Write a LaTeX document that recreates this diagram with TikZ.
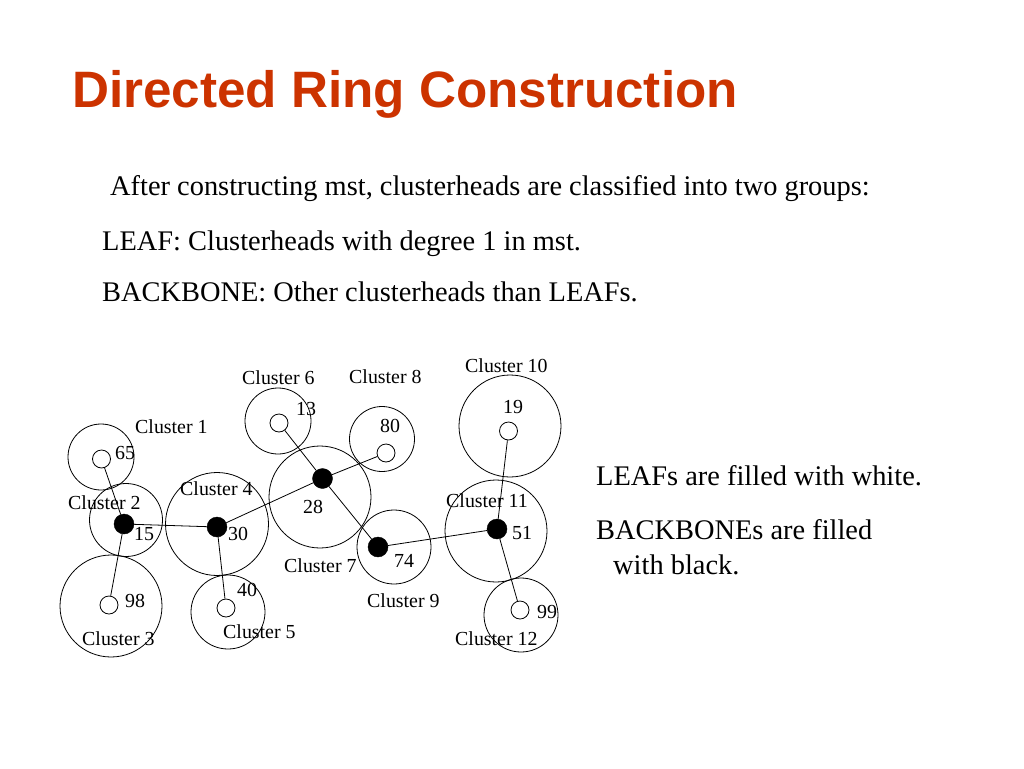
\documentclass[tikz,border=0pt]{standalone}
\usepackage{fontspec}
\setmainfont{Liberation Serif}
\newfontfamily\titlefont{Liberation Sans}
\definecolor{titlered}{RGB}{204,51,0}
\begin{document}
\begin{tikzpicture}[x=1pt,y=-1pt,
  ring/.style={draw=black,line width=0.8pt},
  leaf/.style={circle,draw=black,fill=white,line width=0.8pt,minimum size=18pt,inner sep=0pt},
  backbone/.style={circle,fill=black,draw=black,minimum size=20pt,inner sep=0pt},
  edge/.style={draw=black,line width=0.8pt},
  lbl/.style={anchor=base west,inner sep=0pt,font=\fontsize{19.9}{22}\selectfont},
  body/.style={anchor=base west,inner sep=0pt,font=\fontsize{28.4}{32}\selectfont},
  title/.style={anchor=base west,inner sep=0pt,text=titlered,font=\titlefont\bfseries\fontsize{51.2}{56}\selectfont}]
\useasboundingbox[fill=white] (0,0) rectangle (1024,768);

% texts
\node[title] (t) at (72,107) {Directed Ring Construction};
\node[body] (b1) at (110,195) {After constructing mst, clusterheads are classified into two groups:};
\node[body] (b2) at (102,250) {LEAF: Clusterheads with degree 1 in mst.};
\node[body] (b3) at (102,301) {BACKBONE: Other clusterheads than LEAFs.};
\node[body] (r1) at (596,485) {LEAFs are filled with white.};
\node[body] (r2) at (596,539) {BACKBONEs are filled};
\node[body] (r3) at (613,574) {with black.};

% cluster circles
\draw[ring] (101,457) circle (33);
\draw[ring] (126,520) circle (36.5);
\draw[ring] (111,606) circle (51);
\draw[ring] (217,524) circle (51.5);
\draw[ring] (228,612) circle (37);
\draw[ring] (278,421) circle (33);
\draw[ring] (320,497) circle (51);
\draw[ring] (382,439) circle (32.5);
\draw[ring] (394,547) circle (37);
\draw[ring] (510,426) circle (51);
\draw[ring] (496,531) circle (51);
\draw[ring] (521,615) circle (37);

% clusterheads
\node[leaf] (n65) at (101.5,459) {};
\node[backbone] (n15) at (124,524) {};
\node[leaf] (n98) at (109,605) {};
\node[backbone] (n30) at (217,527) {};
\node[leaf] (n40) at (226,608) {};
\node[leaf] (n13) at (279,423) {};
\node[backbone] (n28) at (322.5,478.5) {};
\node[leaf] (n80) at (386,453) {};
\node[backbone] (n74) at (378,547) {};
\node[leaf] (n19) at (508.5,431) {};
\node[backbone] (n51) at (497,529) {};
\node[leaf] (n99) at (520,610) {};

% mst edges
\draw[edge] (n65) -- (n15);
\draw[edge] (n15) -- (n98);
\draw[edge] (n15) -- (n30);
\draw[edge] (n30) -- (n40);
\draw[edge] (n30) -- (n28);
\draw[edge] (n28) -- (n13);
\draw[edge] (n28) -- (n80);
\draw[edge] (n28) -- (n74);
\draw[edge] (n74) -- (n51);
\draw[edge] (n51) -- (n19);
\draw[edge] (n51) -- (n99);

% labels
\node[lbl] (c1) at (135,433) {Cluster 1};
\node[lbl] (c2) at (68,509) {Cluster 2};
\node[lbl] (c3) at (82,645) {Cluster 3};
\node[lbl] (c4) at (180,495) {Cluster 4};
\node[lbl] (c5) at (223,638) {Cluster 5};
\node[lbl] (c6) at (242,384) {Cluster 6};
\node[lbl] (c7) at (284,572) {Cluster 7};
\node[lbl] (c8) at (349,383) {Cluster 8};
\node[lbl] (c9) at (367,607) {Cluster 9};
\node[lbl] (c10) at (465,372) {Cluster 10};
\node[lbl] (c11) at (446,507) {Cluster 11};
\node[lbl] (c12) at (455,645) {Cluster 12};

\node[lbl] (l65) at (115,459) {65};
\node[lbl] (l15) at (134,540) {15};
\node[lbl] (l98) at (125,607) {98};
\node[lbl] (l30) at (228,540) {30};
\node[lbl] (l40) at (237,596) {40};
\node[lbl] (l13) at (296,415) {13};
\node[lbl] (l28) at (303,513) {28};
\node[lbl] (l80) at (380,432) {80};
\node[lbl] (l74) at (394,567) {74};
\node[lbl] (l19) at (503,413) {19};
\node[lbl] (l51) at (512,539) {51};
\node[lbl] (l99) at (537,618) {99};
\end{tikzpicture}
\end{document}
